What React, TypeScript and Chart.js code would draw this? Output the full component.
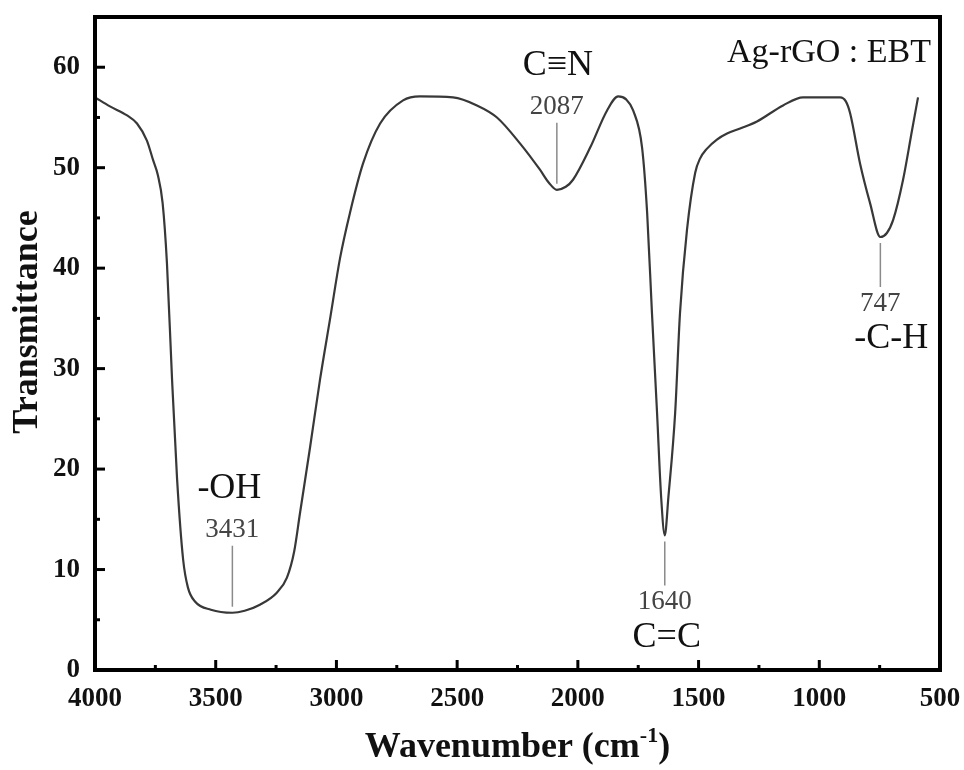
import { useEffect, useRef } from 'react';
import { Chart, registerables } from 'chart.js';

Chart.register(...registerables);

// FTIR spectrum of Ag-rGO : EBT
const wavenumbers = [
  4000, 3938, 3867, 3826, 3785, 3760, 3740, 3720, 3702, 3681, 3660, 3635, 3615, 3585, 3520,
  3431, 3380, 3317, 3247, 3205, 3175, 3151, 3109, 3068, 3026, 2985, 2944, 2890, 2819, 2724,
  2654, 2517, 2418, 2335, 2239, 2157, 2120, 2087, 2050, 2020, 1949, 1879, 1833, 1800, 1771,
  1734, 1713, 1693, 1672, 1655, 1640, 1625, 1597, 1577, 1548, 1514, 1494, 1465, 1424, 1382,
  1328, 1258, 1150, 1067, 914, 890, 872, 831, 790, 747, 720, 694, 653, 616, 591,
];
const transmittance = [
  57.0, 56.1, 55.2, 54.4, 52.7, 50.8, 49.3, 46.5, 40.5, 29.0, 19.0, 11.0, 8.2, 6.8, 6.0,
  5.7, 5.9, 6.5, 7.7, 9.2, 11.8, 15.6, 22.2, 28.9, 35.0, 41.0, 45.5, 50.4, 54.4, 56.7,
  57.1, 57.0, 56.2, 55.0, 52.4, 49.8, 48.5, 47.8, 48.1, 48.8, 52.0, 55.7, 57.1, 56.8, 55.7,
  52.0, 45.5, 35.5, 25.6, 17.2, 13.4, 17.2, 25.6, 35.5, 43.8, 49.5, 50.9, 51.9, 52.8, 53.4,
  53.9, 54.6, 56.2, 57.0, 57.0, 56.6, 55.4, 50.4, 46.5, 43.1, 43.5, 44.8, 48.8, 53.7, 57.0,
];

const xTickValues = [4000, 3500, 3000, 2500, 2000, 1500, 1000, 500];
const yTickValues = [0, 10, 20, 30, 40, 50, 60];

// Assigned absorption bands
const peakWavenumbers = [3431, 2087, 1640, 747];
const peakTransmittance = [5.7, 47.8, 13.4, 43.1];
const bandLabels = ['-OH', 'C\u2261N', 'C=C', '-C-H'];
const sampleLabel = 'Ag-rGO : EBT';

const SERIF = "'Liberation Serif', 'Times New Roman', serif";

const spectrumDecor = {
  id: 'spectrumDecor',
  afterDraw(chart: any) {
    const { ctx, chartArea } = chart;
    const xs = chart.scales.x;
    const ys = chart.scales.y;
    const { left, right, top, bottom } = chartArea;

    ctx.save();
    ctx.strokeStyle = '#000';
    ctx.lineCap = 'butt';

    // inward tick marks, major and half-step minor
    ctx.lineWidth = 3;
    for (let v = 500; v <= 4000; v += 250) {
      const px = xs.getPixelForValue(v);
      const len = v % 500 === 0 ? 10 : 5;
      ctx.beginPath();
      ctx.moveTo(px, bottom);
      ctx.lineTo(px, bottom - len);
      ctx.stroke();
    }
    for (let v = 0; v <= 60; v += 5) {
      const py = ys.getPixelForValue(v);
      const len = v % 10 === 0 ? 10 : 5;
      ctx.beginPath();
      ctx.moveTo(left, py);
      ctx.lineTo(left + len, py);
      ctx.stroke();
    }

    // plot frame
    ctx.lineWidth = 4;
    ctx.strokeRect(left, top, right - left, bottom - top);

    // band markers
    const above = [true, true, false, false];
    const groupDx = [-3, 1, 2, 11];
    ctx.textAlign = 'center';
    ctx.textBaseline = 'middle';
    peakWavenumbers.forEach((wn, i) => {
      const px = xs.getPixelForValue(wn);
      const py = ys.getPixelForValue(peakTransmittance[i]);
      const s = above[i] ? -1 : 1;
      const l1 = above[i] ? 67 : 50;
      const numOff = above[i] ? 83 : 67;
      const grpOff = above[i] ? 124 : 102;
      ctx.strokeStyle = '#8a8a8a';
      ctx.lineWidth = 1.5;
      ctx.beginPath();
      ctx.moveTo(px, py + s * 6);
      ctx.lineTo(px, py + s * l1);
      ctx.stroke();
      ctx.fillStyle = '#444';
      ctx.font = `27px ${SERIF}`;
      ctx.fillText(String(wn), px, py + s * numOff);
      ctx.fillStyle = '#111';
      ctx.font = `36px ${SERIF}`;
      ctx.fillText(bandLabels[i], px + groupDx[i], py + s * grpOff);
    });

    // sample name
    ctx.fillStyle = '#111';
    ctx.font = `34px ${SERIF}`;
    ctx.textAlign = 'right';
    ctx.textBaseline = 'alphabetic';
    ctx.fillText(sampleLabel, right - 9, top + 45);

    // y axis title
    ctx.save();
    ctx.translate(28, 322);
    ctx.rotate(-Math.PI / 2);
    ctx.textAlign = 'center';
    ctx.textBaseline = 'middle';
    ctx.font = `bold 36px ${SERIF}`;
    ctx.fillStyle = '#111';
    ctx.fillText('Transmittance', 0, 0);
    ctx.restore();

    // x axis title with superscript
    const mainFont = `bold 36px ${SERIF}`;
    const supFont = `bold 22px ${SERIF}`;
    const partA = 'Wavenumber (cm';
    const sup = '-1';
    const partB = ')';
    ctx.font = mainFont;
    const wA = ctx.measureText(partA).width;
    const wB = ctx.measureText(partB).width;
    ctx.font = supFont;
    const wS = ctx.measureText(sup).width;
    const total = wA + wS + wB;
    let x0 = (left + right) / 2 - total / 2;
    const base = 757;
    ctx.textAlign = 'left';
    ctx.textBaseline = 'alphabetic';
    ctx.fillStyle = '#111';
    ctx.font = mainFont;
    ctx.fillText(partA, x0, base);
    x0 += wA;
    ctx.font = supFont;
    ctx.fillText(sup, x0, base - 15);
    x0 += wS;
    ctx.font = mainFont;
    ctx.fillText(partB, x0, base);

    ctx.restore();
  },
};

export default function App() {
  const canvasRef = useRef<HTMLCanvasElement | null>(null);

  useEffect(() => {
    if (!canvasRef.current) return;
    const points = wavenumbers.map((wn, i) => ({ x: wn, y: transmittance[i] }));
    const chart = new Chart(canvasRef.current, {
      type: 'line',
      data: {
        datasets: [
          {
            data: points,
            borderColor: '#383838',
            borderWidth: 2.2,
            pointRadius: 0,
            fill: false,
            cubicInterpolationMode: 'monotone',
          },
        ],
      },
      options: {
        animation: false,
        responsive: false,
        devicePixelRatio: 1,
        layout: { padding: { left: 0, top: 17, right: 24, bottom: 0 } },
        plugins: { legend: { display: false }, tooltip: { enabled: false } },
        scales: {
          x: {
            type: 'linear',
            min: 500,
            max: 4000,
            reverse: true,
            afterFit: (scale: any) => {
              scale.height = 100;
              scale.paddingLeft = 0;
              scale.paddingRight = 0;
            },
            afterBuildTicks: (scale: any) => {
              scale.ticks = xTickValues.map((v) => ({ value: v }));
            },
            grid: { display: false, drawTicks: false },
            border: { display: false },
            ticks: {
              padding: 13,
              maxRotation: 0,
              autoSkip: false,
              color: '#111',
              font: { family: SERIF, size: 27, weight: 'bold' },
              callback: (v: any) => String(v),
            },
          },
          y: {
            type: 'linear',
            min: 0,
            max: 65,
            afterFit: (scale: any) => {
              scale.width = 95;
              scale.paddingTop = 0;
              scale.paddingBottom = 0;
            },
            afterBuildTicks: (scale: any) => {
              scale.ticks = yTickValues.map((v) => ({ value: v }));
            },
            grid: { display: false, drawTicks: false },
            border: { display: false },
            ticks: {
              padding: 15,
              color: '#111',
              font: { family: SERIF, size: 27, weight: 'bold' },
              callback: (v: any) => String(v),
            },
          },
        },
      },
      plugins: [spectrumDecor],
    });
    return () => chart.destroy();
  }, []);

  return (
    <div style={{ position: 'fixed', left: 0, top: 0, width: 964, height: 770, background: '#fff' }}>
      <canvas ref={canvasRef} width={964} height={770} style={{ display: 'block' }} />
    </div>
  );
}
